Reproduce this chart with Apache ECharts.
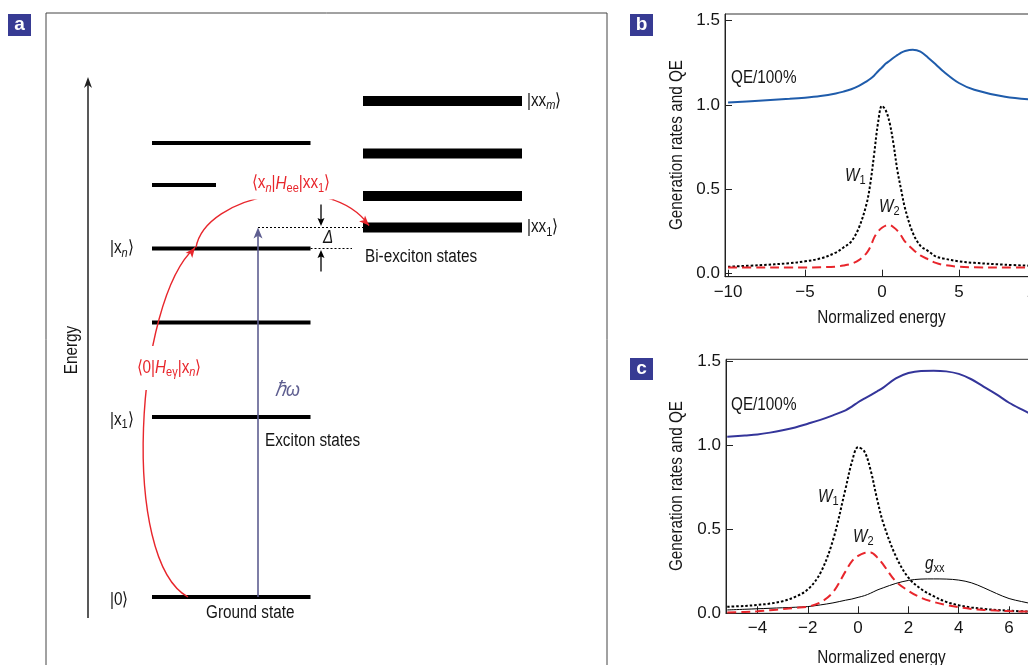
<!DOCTYPE html>
<html><head><meta charset="utf-8">
<script src="https://cdn.jsdelivr.net/npm/echarts@6/dist/echarts.min.js"></script>
<style>html,body{margin:0;padding:0;background:#fff}#c{width:1028px;height:665px}</style>
</head><body><div id="c"></div>
<script>
const FONT = '"Liberation Sans",Arial,sans-serif';
const FS = 18;          // text size of the condensed labels
const SX = 0.85;        // horizontal squeeze to imitate the condensed face
const INK = '#151515';

// ---------- Panel a: energy levels (arbitrary energy units, ground state = 0) ----------
const excitonLevels = [0, 18.0, 27.45, 34.85, 41.2, 45.4];   // |0>, |x1>, ..., |xn>, ...
const biexcitonLevels = [36.95, 40.1, 44.35, 49.6];          // |xx1> ... |xxm>

// ---------- Panel b ----------
const energyB = [-10,-8,-6,-5,-4,-3,-2.5,-2,-1.5,-1,-0.75,-0.5,-0.25,0,0.25,0.5,0.75,1,1.25,1.5,2,2.5,3,3.5,4,5,6,8,10];
const qeB = [1.014,1.025,1.036,1.043,1.053,1.068,1.079,1.093,1.113,1.14,1.155,1.175,1.2,1.222,1.245,1.262,1.28,1.295,1.31,1.32,1.327,1.316,1.28,1.24,1.198,1.13,1.09,1.048,1.03];
const w1B = [0.041,0.05,0.062,0.073,0.09,0.125,0.155,0.19,0.272,0.414,0.538,0.715,0.897,0.995,0.967,0.894,0.768,0.613,0.496,0.387,0.243,0.165,0.134,0.102,0.09,0.073,0.064,0.053,0.046];
const w2B = [0.036,0.036,0.036,0.036,0.038,0.042,0.048,0.058,0.08,0.122,0.16,0.215,0.25,0.272,0.285,0.288,0.275,0.255,0.225,0.19,0.145,0.108,0.085,0.064,0.052,0.041,0.038,0.036,0.036];

// ---------- Panel c ----------
const energyC = [-5.2,-4.5,-4,-3.5,-3,-2.5,-2,-1.5,-1,-0.5,-0.25,0,0.25,0.5,0.75,1,1.5,2,2.5,3,3.5,4,4.5,5,5.5,6,6.5,7,7.5];
const qeC = [1.052,1.06,1.066,1.077,1.091,1.108,1.13,1.153,1.18,1.21,1.232,1.258,1.28,1.3,1.322,1.345,1.4,1.432,1.445,1.446,1.442,1.427,1.395,1.35,1.305,1.255,1.215,1.178,1.145];
const w1C = [0.039,0.044,0.05,0.058,0.072,0.098,0.142,0.24,0.435,0.742,0.9,0.99,0.965,0.852,0.684,0.538,0.34,0.212,0.145,0.102,0.068,0.048,0.035,0.026,0.02,0.016,0.012,0.01,0.008];
const w2C = [0.005,0.008,0.012,0.018,0.025,0.032,0.04,0.065,0.125,0.25,0.31,0.342,0.36,0.363,0.335,0.29,0.19,0.134,0.093,0.068,0.05,0.036,0.026,0.02,0.016,0.013,0.011,0.01,0.009];
const gxxC = [0.02,0.024,0.027,0.03,0.033,0.036,0.04,0.05,0.062,0.078,0.085,0.095,0.105,0.12,0.138,0.152,0.178,0.196,0.204,0.205,0.204,0.198,0.182,0.152,0.118,0.088,0.07,0.055,0.045];

const yTicks = [0, 0.5, 1.0, 1.5];
const xTicksB = [-10, -5, 0, 5, 10];
const xTicksC = [-4, -2, 0, 2, 4, 6, 8];
const xName = 'Normalized energy';
const yName = 'Generation rates and QE';

// ---------- layout of the schematic (diagram units, 1 unit = 10 px) ----------
const L = {
  levelStart: 10.6, levelEnd: 26.45, shortEnd: 17.0, shortIndex: 4,
  bxStart: 31.7, bxEnd: 47.6,
  ketX: 6.4, bxKetX: 48.1,
  eArrowX: 4.2, eArrowFrom: -2.1, eArrowTo: 52.0,
  hwX: 21.2, deltaX: 27.5
};
const RED = '#e8262c', HW = '#5e5e90';

const pair = (xs, ys) => xs.map((x, i) => [x, ys[i]]);
const minus = v => (v < 0 ? '\u2212' + Math.abs(v) : String(v));

const rich = {
  r: {fontFamily: FONT, fontSize: FS, lineHeight: 22, verticalAlign: 'middle'},
  i: {fontFamily: FONT, fontSize: FS, lineHeight: 22, fontStyle: 'italic', verticalAlign: 'middle'},
  s: {fontFamily: FONT, fontSize: 13, lineHeight: 13, verticalAlign: 'bottom'},
  si: {fontFamily: FONT, fontSize: 13, lineHeight: 13, fontStyle: 'italic', verticalAlign: 'bottom'}
};

// condensed text element
function ctext(x, y, text, style, extra) {
  return Object.assign({type: 'text', x: x, y: y, scaleX: SX,
    style: Object.assign({text: text, rich: rich, fill: INK, font: FS + 'px ' + FONT, align: 'left', verticalAlign: 'middle'}, style || {})}, extra || {});
}

function head(tip, from, len, w, color, notch) {
  const dx = tip[0] - from[0], dy = tip[1] - from[1], d = Math.hypot(dx, dy);
  const ux = dx / d, uy = dy / d;
  const bx = tip[0] - ux * len, by = tip[1] - uy * len;
  const nx = tip[0] - ux * len * (1 - notch), ny = tip[1] - uy * len * (1 - notch);
  return {type: 'polygon', shape: {points: [[tip[0], tip[1]], [bx - uy * w, by + ux * w], [nx, ny], [bx + uy * w, by - ux * w]]}, style: {fill: color}};
}
function bez(p0, p1, p2, p3, t) {
  const a = (1 - t) ** 3, b = 3 * (1 - t) ** 2 * t, c = 3 * (1 - t) * t * t, d = t ** 3;
  return [a * p0[0] + b * p1[0] + c * p2[0] + d * p3[0], a * p0[1] + b * p1[1] + c * p2[1] + d * p3[1]];
}

function renderDiagram(params, api) {
  const c = (x, e) => api.coord([x, e]);
  const ch = [];
  const E0 = excitonLevels[0], Ex1 = excitonLevels[1], Exn = excitonLevels[3];
  const Exx1 = biexcitonLevels[0], Exxm = biexcitonLevels[biexcitonLevels.length - 1];
  const bar = (x0, x1, e, h) => {
    const p = c(x0, e), q = c(x1, e);
    ch.push({type: 'rect', shape: {x: p[0], y: p[1] - h / 2, width: q[0] - p[0], height: h}, style: {fill: '#000'}});
  };
  excitonLevels.forEach((e, i) => bar(L.levelStart, i === L.shortIndex ? L.shortEnd : L.levelEnd, e, 4));
  biexcitonLevels.forEach(e => bar(L.bxStart, L.bxEnd, e, 10));

  const line = (p, q, color, w, dash) => ch.push({type: 'line', shape: {x1: p[0], y1: p[1], x2: q[0], y2: q[1]}, style: {stroke: color, lineWidth: w, lineDash: dash || null}});

  // energy axis arrow
  {
    const p = c(L.eArrowX, L.eArrowFrom), q = c(L.eArrowX, L.eArrowTo);
    line(p, [q[0], q[1] + 6], '#222', 1.5);
    ch.push(head(q, p, 11, 4, '#222', 0.3));
  }
  // hbar omega arrow
  {
    const p = c(L.hwX, E0), q = c(L.hwX, Exx1);
    line(p, [q[0], q[1] + 8], HW, 1.6);
    ch.push(head(q, p, 11, 4.5, HW, 0.25));
  }
  // dotted guide lines
  line(c(L.hwX, Exx1), c(L.bxStart, Exx1), '#000', 1.2, [2, 2]);
  line(c(L.levelEnd, Exn), c(L.bxStart - 1.1, Exn), '#000', 1.2, [2, 2]);
  // Delta arrows
  {
    const a0 = c(L.deltaX, Exx1 + 2.3), a1 = c(L.deltaX, Exx1 + 0.15);
    line(a0, [a1[0], a1[1] - 6], '#000', 1.3);
    ch.push(head(a1, a0, 8, 3.5, '#000', 0.2));
    const b0 = c(L.deltaX, Exn - 2.3), b1 = c(L.deltaX, Exn - 0.15);
    line(b0, [b1[0], b1[1] + 6], '#000', 1.3);
    ch.push(head(b1, b0, 8, 3.5, '#000', 0.2));
  }
  // red coupling curves
  const curve = (P) => {
    const p = P.map(q => c(q[0], q[1]));
    ch.push({type: 'bezierCurve', shape: {x1: p[0][0], y1: p[0][1], cpx1: p[1][0], cpy1: p[1][1], cpx2: p[2][0], cpy2: p[2][1], x2: p[3][0], y2: p[3][1]},
      style: {stroke: RED, lineWidth: 1.4, fill: 'none'}});
    ch.push(head(p[3], bez(p[0], p[1], p[2], p[3], 0.9), 10, 4.2, RED, 0.25));
  };
  curve([[14.2, E0], [7.4, E0 + 3.7], [8.9, Exn - 5.2], [14.9, Exn + 0.1]]);
  curve([[15.0, Exn + 0.1], [15.9, Exn + 5.4], [28.4, Exn + 7.9], [32.3, Exx1 + 0.2]]);

  const txt = (x, e, text, style, extra) => { const p = c(x, e); ch.push(ctext(p[0], p[1], text, style, extra)); };

  // coupling labels (white boxes hide the curve behind them)
  txt(12.3, 22.9, '{r|\u27E80|}{i|H}{s|e\u03B3}{r||x}{si|n}{r|\u27E9}', {fill: RED, align: 'center', backgroundColor: '#fff', padding: [11, 3, 11, 3]});
  txt(24.5, Exn + 6.35, '{r|\u27E8x}{si|n}{r||}{i|H}{s|ee}{r||xx}{s|1}{r|\u27E9}', {fill: RED, align: 'center', backgroundColor: '#fff', padding: [2, 3, 5, 3]});
  // kets
  txt(L.ketX, Exn, '{r||x}{si|n}{r|\u27E9}');
  txt(L.ketX, Ex1 - 0.3, '{r||x}{s|1}{r|\u27E9}');
  txt(L.ketX, E0 - 0.3, '{r||0\u27E9}');
  txt(L.bxKetX, Exxm, '{r||xx}{si|m}{r|\u27E9}');
  txt(L.bxKetX, Exx1, '{r||xx}{s|1}{r|\u27E9}');
  // state names
  txt(L.bxStart + 0.2, Exx1 - 3.0, 'Bi-exciton states');
  txt(L.hwX + 0.7, Ex1 - 2.4, 'Exciton states');
  txt(L.hwX - 5.2, E0 - 1.6, 'Ground state');
  txt(L.hwX + 1.7, Ex1 + 2.7, '\u210F\u03C9', {fill: HW, font: 'italic 21px ' + FONT});
  txt(L.deltaX + 0.2, (Exn + Exx1) / 2, '\u0394', {font: 'italic ' + FS + 'px ' + FONT});
  txt(L.eArrowX - 1.6, 24.7, 'Energy', {align: 'center'}, {rotation: Math.PI / 2});

  return {type: 'group', children: ch};
}

const tickFont = {fontFamily: FONT, fontSize: 17, color: INK};
function xAxisOf(grid, min, max, ticks) {
  return {gridIndex: grid, type: 'value', min: min, max: max,
    axisLine: {show: true, onZero: false, lineStyle: {color: '#222', width: 1}},
    axisTick: {show: true, inside: true, length: 7, customValues: ticks, lineStyle: {color: '#222', width: 1}},
    axisLabel: Object.assign({customValues: ticks, formatter: minus, margin: 7}, tickFont),
    splitLine: {show: false}};
}
function yAxisOf(grid, min, max) {
  return {gridIndex: grid, type: 'value', min: min, max: max,
    axisLine: {show: true, onZero: false, lineStyle: {color: '#222', width: 1}},
    axisTick: {show: true, inside: true, length: 7, customValues: yTicks, lineStyle: {color: '#222', width: 1}},
    axisLabel: Object.assign({customValues: yTicks, formatter: v => v.toFixed(1), margin: 5}, tickFont),
    splitLine: {show: false}};
}
const lineSeries = (xi, data, color, width, type) => ({type: 'line', xAxisIndex: xi, yAxisIndex: xi, data: data, smooth: 0.35,
  symbol: 'none', silent: true, lineStyle: {color: color, width: width, type: type || 'solid'}});

function badge(x, y, letter) {
  return [{type: 'rect', x: x, y: y, shape: {width: 23, height: 22}, style: {fill: '#373b93'}},
    {type: 'text', x: x + 11.5, y: y + 11, style: {text: letter, fill: '#fff', font: 'bold 19px ' + FONT, align: 'center', verticalAlign: 'middle'}}];
}

const chart = echarts.init(document.getElementById('c'), null, {renderer: 'canvas', width: 1028, height: 665});
chart.setOption({
  animation: false,
  backgroundColor: '#fff',
  grid: [
    {left: 46, top: 13, width: 561, height: 653, show: true, borderColor: '#444', borderWidth: 1, backgroundColor: 'transparent', containLabel: false, outerBoundsMode: 'none'},
    {left: 725, top: 14, width: 313, height: 262.7, show: true, borderColor: '#333', borderWidth: 1, backgroundColor: 'transparent', containLabel: false, outerBoundsMode: 'none'},
    {left: 726, top: 359.3, width: 311, height: 254, show: true, borderColor: '#333', borderWidth: 1, backgroundColor: 'transparent', containLabel: false, outerBoundsMode: 'none'}
  ],
  xAxis: [
    {gridIndex: 0, type: 'value', min: 0, max: 56.1, show: false},
    xAxisOf(1, -10.2, 10.14, xTicksB),
    xAxisOf(2, -5.25, 7.11, xTicksC)
  ],
  yAxis: [
    {gridIndex: 0, type: 'value', min: -6.9, max: 58.4, show: false},
    yAxisOf(1, -0.018, 1.539),
    yAxisOf(2, 0, 1.514)
  ],
  series: [
    {type: 'custom', xAxisIndex: 0, yAxisIndex: 0, data: [[0, 0]], renderItem: renderDiagram, clip: false, silent: true},
    lineSeries(1, pair(energyB, qeB), '#1f5cab', 2),
    lineSeries(1, pair(energyB, w1B), '#000', 2, [2.5, 2]),
    lineSeries(1, pair(energyB, w2B), RED, 2, [9, 5]),
    lineSeries(2, pair(energyC, qeC), '#34359a', 2),
    lineSeries(2, pair(energyC, gxxC), '#000', 1),
    lineSeries(2, pair(energyC, w1C), '#000', 2, [2.5, 2]),
    lineSeries(2, pair(energyC, w2C), RED, 2, [9, 5])
  ],
  graphic: [].concat(
    badge(8, 14, 'a'), badge(630, 14, 'b'), badge(630, 358, 'c'),
    [ctext(881.5, 318.5, xName, {align: 'center'}), ctext(881.5, 658, xName, {align: 'center'}),
     ctext(677.5, 145, yName, {align: 'center'}, {rotation: Math.PI / 2}),
     ctext(677.5, 486, yName, {align: 'center'}, {rotation: Math.PI / 2}),
     ctext(731, 78, 'QE/100%'), ctext(845, 176, '{i|W}{s|1}'), ctext(879, 207, '{i|W}{s|2}'),
     ctext(731, 405, 'QE/100%'), ctext(818, 497, '{i|W}{s|1}'), ctext(853, 537, '{i|W}{s|2}'), ctext(925, 564, '{i|g}{s|xx}')]
  )
});
</script></body></html>
